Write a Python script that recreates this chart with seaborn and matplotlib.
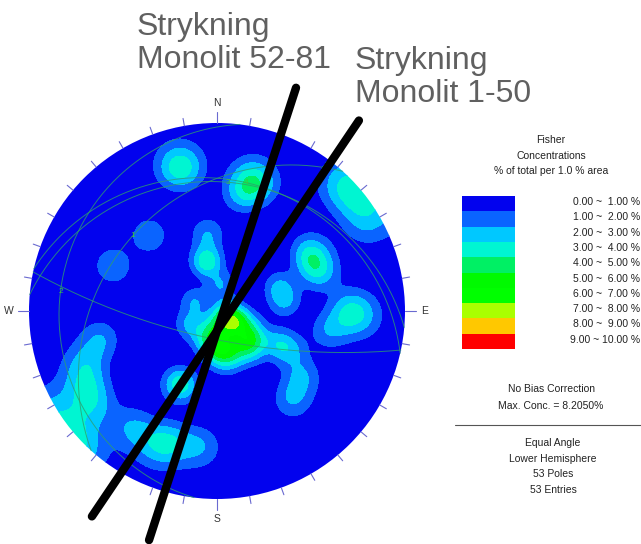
import numpy as np
import matplotlib
matplotlib.use('Agg')
import matplotlib.pyplot as plt
from matplotlib.colors import ListedColormap
from matplotlib.patches import Circle
import seaborn as sns

sns.set_theme(style='white')
plt.rcParams['font.family'] = ['Liberation Sans', 'DejaVu Sans']

# --- data: pole positions (unit circle, x = east, y = north)
pole_x = [0.04, -0.02, 0.07, 0.16, -0.07, 0.02, 0.05, 0.20, 0.00, 0.09, 0.18,
          0.08, 0.09, 0.15, -0.01, -0.15, -0.12, 0.02,
          -0.20, -0.19, 0.18, 0.22, 0.13, 0.74, 0.80, 0.66, -0.36, -0.55,
          -0.06, -0.05, -0.05, 0.49, 0.51, 0.55, 0.36, 0.33, 0.70, 0.76, 0.60,
          -0.20, -0.19, -0.62, -0.70, -0.70, -0.66, -0.32, -0.24, -0.45, -0.09,
          0.45, 0.40, 0.39, 0.32]
pole_y = [0.00, -0.07, -0.07, -0.07, -0.14, -0.14, -0.26, -0.14, -0.21, -0.21, -0.21,
          -0.05, -0.04, -0.15, -0.19, -0.07, 0.05, 0.14,
          0.77, 0.76, 0.71, 0.67, 0.62, 0.62, 0.48, 0.68, 0.40, 0.24,
          0.26, 0.27, 0.41, 0.32, 0.26, 0.20, 0.05, 0.13, 0.01, -0.03, -0.10,
          -0.38, -0.40, -0.15, -0.28, -0.40, -0.50, -0.71, -0.70, -0.62, -0.72,
          -0.35, -0.47, -0.21, -0.17]

# planes drawn as great circles
gc_dipdir = [312, 277, 5, 13, 192]
gc_dip = [28, 10, 21, 20, 73]
gc_label = ['1', '2', '3', '4', '']

# strike lines (azimuth of the upper end, degrees from N)
strike_az = [18, 34]
strike_name = ['Strykning\nMonolit 52-81', 'Strykning\nMonolit 1-50']

level_labels = ['0.00 ~  1.00 %', '1.00 ~  2.00 %', '2.00 ~  3.00 %', '3.00 ~  4.00 %',
                '4.00 ~  5.00 %', '5.00 ~  6.00 %', '6.00 ~  7.00 %', '7.00 ~  8.00 %',
                '8.00 ~  9.00 %', '9.00 ~ 10.00 %']
level_colors = ['#0202EE', '#0A64FF', '#00C8FF', '#00F5D2', '#00F064',
                '#00FA00', '#00FF00', '#AAFF00', '#FFC800', '#FF0000']

# --- layout (pixels)
CX, CY, R = 217, 311, 188

def to_px(x, y):
    return CX + R * np.asarray(x), CY - R * np.asarray(y)

def to_vec(x, y):
    x = np.asarray(x, float); y = np.asarray(y, float)
    r = np.hypot(x, y)
    phi = 2 * np.arctan(r)
    rs = np.where(r == 0, 1, r)
    return np.sin(phi) * x / rs, np.sin(phi) * y / rs, np.cos(phi)

fig = plt.figure(figsize=(6.41, 5.44), dpi=100)
ax = fig.add_axes([0, 0, 1, 1])
ax.set_xlim(0, 641)
ax.set_ylim(544, 0)

# --- Fisher density on the net
g = np.linspace(-1.04, 1.04, 421)
GX, GY = np.meshgrid(g, g)
ge, gn, gd = to_vec(GX, GY)
pe, pn, pd = to_vec(pole_x, pole_y)
kappa = 90.0
amp = 100.0 / len(pole_x)
dens = np.zeros_like(GX)
for e, n, d in zip(pe, pn, pd):
    dot = np.abs(ge * e + gn * n + gd * d)
    dens += amp * np.exp(kappa * (dot - 1))

PX, PY = to_px(GX, GY)
cs = ax.contourf(PX, PY, dens, levels=np.arange(0, 11), colors=level_colors, extend='max')
clip = Circle((CX, CY), R, transform=ax.transData, facecolor='none', edgecolor='none')
ax.add_patch(clip)
cs.set_clip_path(clip)

# great circles
t = np.radians(np.linspace(0, 180, 200))
for dd, dp, lab in zip(gc_dipdir, gc_dip, gc_label):
    a, b = np.radians(dd), np.radians(dp)
    sv = np.array([np.sin(a - np.pi / 2), np.cos(a - np.pi / 2), 0.0])
    dv = np.array([np.sin(a) * np.cos(b), np.cos(a) * np.cos(b), np.sin(b)])
    v = np.outer(np.cos(t), sv) + np.outer(np.sin(t), dv)
    phi = np.arccos(np.clip(v[:, 2], -1, 1))
    h = np.hypot(v[:, 0], v[:, 1])
    h[h == 0] = 1
    r = np.tan(phi / 2)
    px, py = to_px(r * v[:, 0] / h, r * v[:, 1] / h)
    ax.plot(px, py, color='#2E9E6E', lw=0.7, alpha=0.8)
    if lab:
        rr = np.tan(np.pi / 4 - b / 2)
        lx, ly = to_px(rr * np.sin(a), rr * np.cos(a))
        ax.text(lx, ly, lab, color='#3CCB3C', fontsize=6, ha='center', va='center')

# ticks around the primitive
for az in range(0, 360, 10):
    s, c = np.sin(np.radians(az)), np.cos(np.radians(az))
    L = 1.04 if az % 90 else 1.06
    x0, y0 = to_px(s, c)
    x1, y1 = to_px(L * s, L * c)
    ax.plot([x0, x1], [y0, y1], color='#6A6AD0', lw=0.8)
for lab, az in zip('NESW', [0, 90, 180, 270]):
    s, c = np.sin(np.radians(az)), np.cos(np.radians(az))
    x, y = to_px(1.105 * s, 1.105 * c)
    ax.text(x, y, lab, fontsize=7.5, color='#333333', ha='center', va='center')

# strike lines
cross_x, cross_y = 0.0, -0.106
ext = [(1.36, 1.17), (1.35, 1.19)]
for az, (up, dn) in zip(strike_az, ext):
    s, c = np.sin(np.radians(az)), np.cos(np.radians(az))
    lx, ly = to_px([cross_x - dn * s, cross_x + up * s], [cross_y - dn * c, cross_y + up * c])
    sns.lineplot(x=lx, y=ly, ax=ax, color='black', lw=6, sort=False, estimator=None)

ax.text(137, 12, strike_name[0], fontsize=23, color='#606060', ha='left', va='top', linespacing=1.12)
ax.text(355, 46, strike_name[1], fontsize=23, color='#606060', ha='left', va='top', linespacing=1.12)

# legend
ax_leg = fig.add_axes([462 / 641, 1 - 349 / 544, 53 / 641, 153 / 544])
sns.heatmap(np.arange(10).reshape(-1, 1), cmap=ListedColormap(level_colors), cbar=False,
            ax=ax_leg, xticklabels=False, yticklabels=False)

tk = dict(fontsize=7.5, color='#222222', ha='center', va='center')
ax.text(551, 140, 'Fisher', **tk)
ax.text(551, 156, 'Concentrations', **tk)
ax.text(551, 171, '% of total per 1.0 % area', **tk)
for i, lab in enumerate(level_labels):
    ax.text(640, 202 + 15.3 * i, lab, fontsize=7.5, color='#222222', ha='right', va='center')
ax.text(551, 389, 'No Bias Correction', **tk)
ax.text(551, 406, 'Max. Conc. = 8.2050%', **tk)
ax.plot([455, 641], [425, 425], color='#555555', lw=0.8)
for i, lab in enumerate(['Equal Angle', 'Lower Hemisphere', '53 Poles', '53 Entries']):
    ax.text(553, 443 + 15.6 * i, lab, **tk)

ax.set_xlim(0, 641)
ax.set_ylim(544, 0)
ax.axis('off')
fig.savefig('out.png', dpi=100)
